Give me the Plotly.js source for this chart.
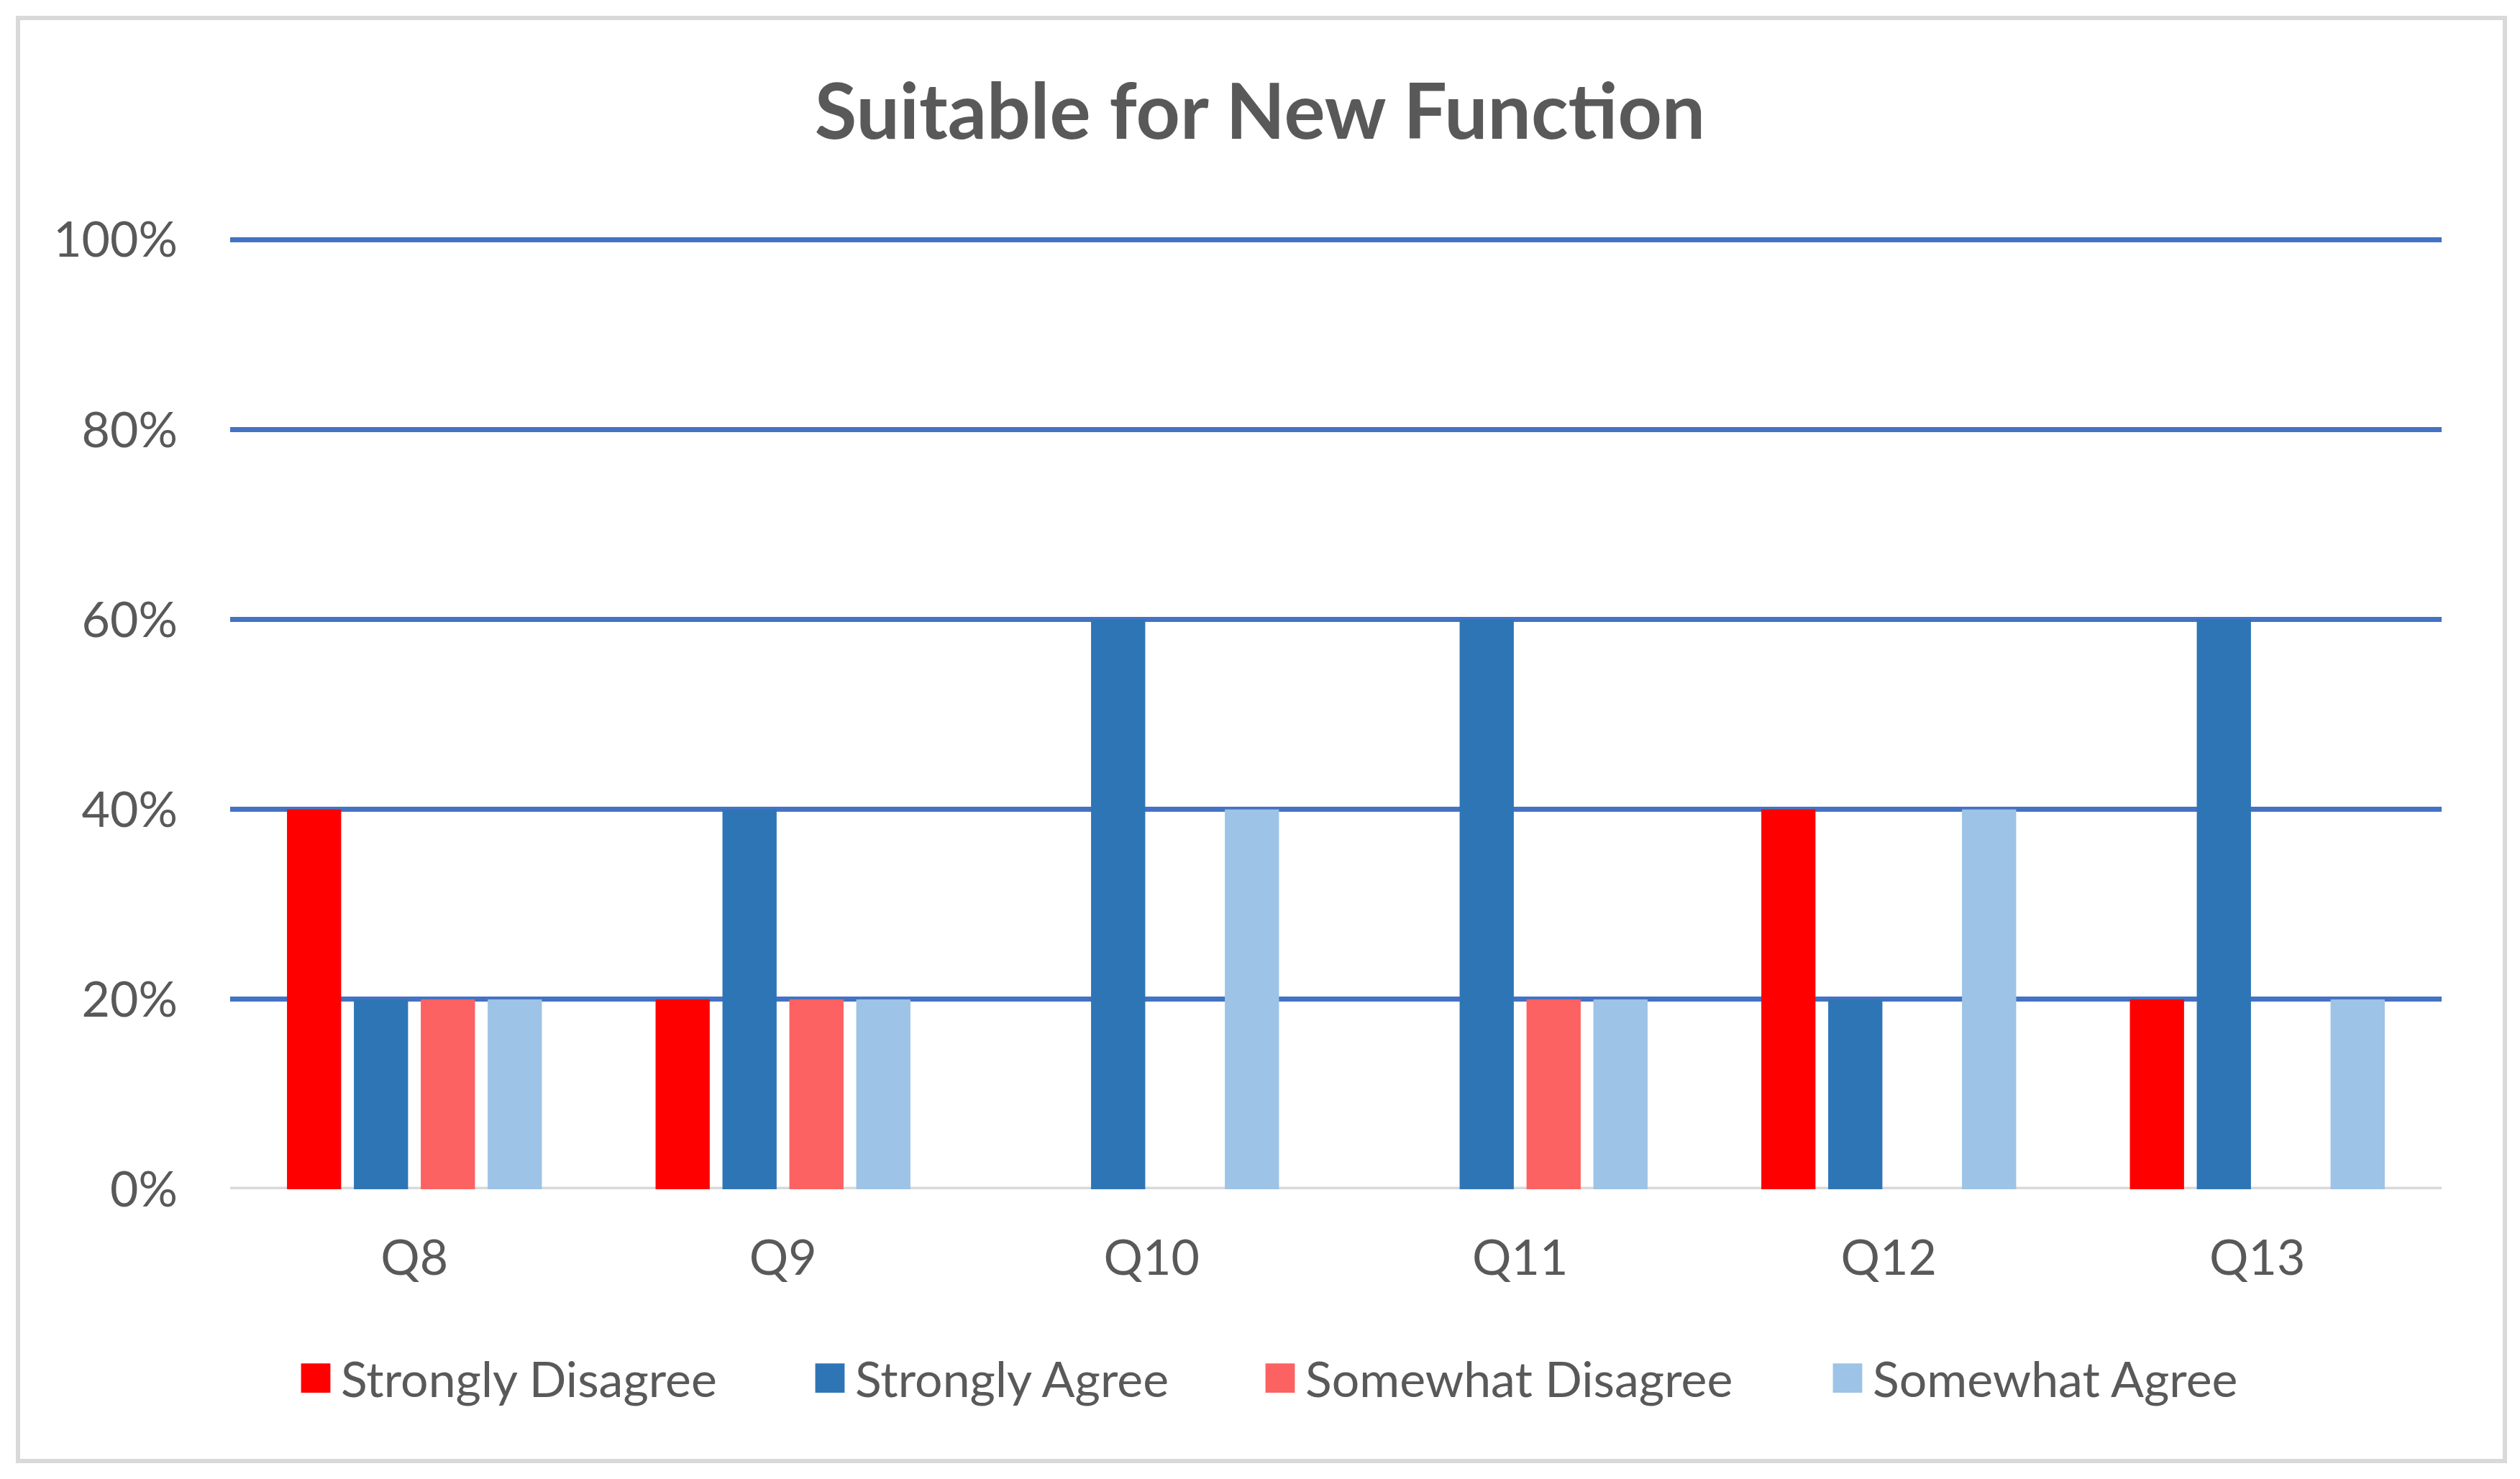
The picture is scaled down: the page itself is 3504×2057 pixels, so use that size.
<!DOCTYPE html>
<html>
<head>
<meta charset="utf-8">
<script src="https://cdn.plot.ly/plotly-3.0.1.min.js"></script>
<style>
html,body{margin:0;padding:0;background:#fff;}
#chart{width:3504px;height:2057px;}
#chart .legendpoints path{transform-box:fill-box;transform-origin:center;transform:translate(15px,0) scale(3.4);}
</style>
</head>
<body>
<div id="chart"></div>
<script>
const categories = ["Q8", "Q9", "Q10", "Q11", "Q12", "Q13"];
const seriesNames = ["Strongly Disagree", "Strongly Agree", "Somewhat Disagree", "Somewhat Agree"];
const stronglyDisagree = [0.40, 0.20, 0.00, 0.00, 0.40, 0.20];
const stronglyAgree = [0.20, 0.40, 0.60, 0.60, 0.20, 0.60];
const somewhatDisagree = [0.20, 0.20, 0.00, 0.20, 0.00, 0.00];
const somewhatAgree = [0.20, 0.20, 0.40, 0.20, 0.40, 0.20];
const yTickVals = [0, 0.2, 0.4, 0.6, 0.8, 1.0];
const yTickText = ["0%", "20%", "40%", "60%", "80%", "100%"];
const colors = ["#FF0000", "#2E75B6", "#FC6262", "#9DC3E6"];

const values = [stronglyDisagree, stronglyAgree, somewhatDisagree, somewhatAgree];
const textColor = "#595959";
const fontFamily = "Lato, 'Open Sans', sans-serif";
const legendIds = ["legend", "legend2", "legend3", "legend4"];

const traces = values.map((v, i) => ({
  type: "bar",
  name: seriesNames[i],
  x: categories,
  y: v,
  legend: legendIds[i],
  marker: {color: colors[i], line: {width: 0}},
  hoverinfo: "x+y+name"
}));

const W = 3504, H = 2057;
const L = 320, R = 3395, T = 331, B = 1654;
const pw = R - L, ph = B - T;
const px = v => (v - L) / pw;
const py = v => (B - v) / ph;

const legendLefts = [418, 1133, 1759, 2548];
const legendOffset = -6;

const layout = {
  width: W,
  height: H,
  paper_bgcolor: "#ffffff",
  plot_bgcolor: "#ffffff",
  margin: {l: L, r: W - R, t: T, b: H - B, pad: 0},
  barmode: "group",
  bargap: 0.274,
  bargroupgap: 0.19,
  font: {family: fontFamily, color: textColor, size: 68},
  title: {
    text: "<b>Suitable for New Function</b>",
    font: {family: fontFamily, size: 107, color: textColor},
    x: 0.5, xref: "container", xanchor: "center",
    y: 1 - 156 / H, yref: "container", yanchor: "middle"
  },
  xaxis: {
    type: "category",
    showgrid: false,
    zeroline: false,
    showline: false,
    ticks: "",
    tickfont: {family: fontFamily, size: 68, color: textColor},
    ticklabelstandoff: 50
  },
  yaxis: {
    range: [0, 1.002],
    tickvals: yTickVals,
    ticktext: yTickText,
    showgrid: true,
    gridcolor: "#4472C4",
    gridwidth: 7,
    zeroline: false,
    showline: false,
    ticks: "",
    tickfont: {family: fontFamily, size: 68, color: textColor},
    ticklabelstandoff: 72
  },
  showlegend: true,
  shapes: [
    {type: "line", xref: "paper", yref: "y", x0: 0, x1: 1, y0: 0, y1: 0,
     line: {color: "#D9D9D9", width: 7}, layer: "below"},
    {type: "rect", xref: "paper", yref: "paper",
     x0: px(25), x1: px(3483), y0: py(25), y1: py(2032),
     line: {color: "#D9D9D9", width: 6}, fillcolor: "rgba(0,0,0,0)", layer: "below"}
  ]
};

legendIds.forEach((id, i) => {
  layout[id] = {
    orientation: "h",
    x: px(legendLefts[i] - legendOffset), xanchor: "left",
    y: py(1917), yanchor: "middle",
    font: {family: fontFamily, size: 68, color: textColor},
    itemwidth: 40,
    bgcolor: "rgba(0,0,0,0)",
    borderwidth: 0
  };
});

Plotly.newPlot("chart", traces, layout, {displayModeBar: false, staticPlot: true}).then(gd => {
  gd.querySelectorAll('.infolayer g[class^="legend"] [clip-path]').forEach(el => el.removeAttribute("clip-path"));
});
</script>
</body>
</html>
